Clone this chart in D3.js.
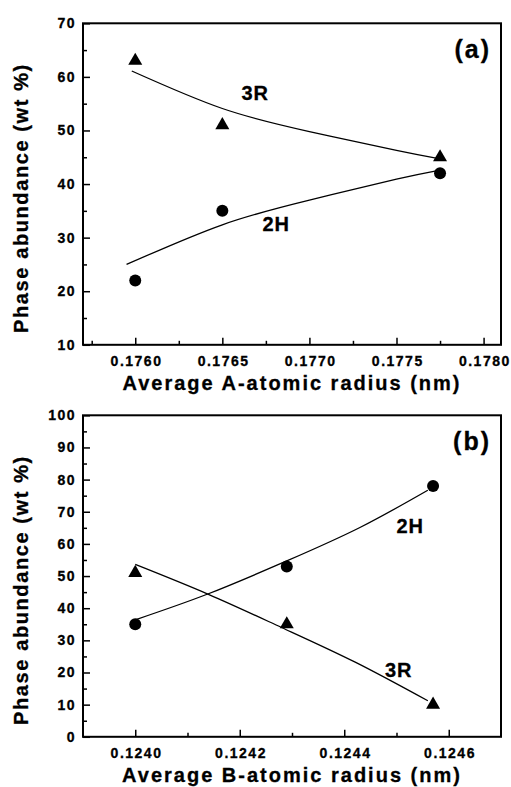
<!DOCTYPE html>
<html>
<head>
<meta charset="utf-8">
<script src="https://cdn.jsdelivr.net/npm/d3@7"></script>
<style>
	body { margin: 0; background: #fff; }
	svg text { font-family: 'Liberation Sans', Arial, sans-serif; font-weight: bold; fill: #000; stroke: #000; stroke-width: 0.3px; }
	.tick line { stroke: #000; stroke-width: 1.5; }
	.domain { display: none; }
</style>
</head>
<body>
<div id="chart"></div>
<script>
// panel (a): average A-atomic radius
const radiusA = [0.1760, 0.1765, 0.17775];
const abundA3R = [63, 51, 45];
const abundA2H = [22, 35, 42];
const fitA3R = [[0.17598, 61.1], [0.1765, 54.1], [0.1770, 49.8], [0.1775, 46.3], [0.17775, 44.7]];
const fitA2H = [[0.17595, 25.0], [0.1765, 32.4], [0.1770, 37.0], [0.1775, 40.9], [0.17775, 42.6]];
const xTicksA = [0.1760, 0.1765, 0.1770, 0.1775, 0.1780];
const xMinorA = [0.17575, 0.17625, 0.17675, 0.17725, 0.17775];
const yTicksA = [10, 20, 30, 40, 50, 60, 70];
const yMinorA = [15, 25, 35, 45, 55, 65];

// panel (b): average B-atomic radius
const radiusB = [0.1240, 0.12429, 0.12457];
const abundB3R = [51, 35, 10];
const abundB2H = [35, 53, 78];
const fitB3R = [[0.1240, 53.6], [0.12414, 44.3], [0.12428, 34.0], [0.12442, 23.3], [0.12456, 11.2]];
const fitB2H = [[0.1240, 36.4], [0.12414, 44.5], [0.12429, 54.7], [0.12443, 65.1], [0.12456, 76.7]];
const xTicksB = [0.1240, 0.1242, 0.1244, 0.1246];
const xMinorB = [0.1241, 0.1243, 0.1245];
const yTicksB = [0, 10, 20, 30, 40, 50, 60, 70, 80, 90, 100];
const yMinorB = [5, 15, 25, 35, 45, 55, 65, 75, 85, 95];

const WIDTH = 511;
const HEIGHT = 787;
const marginLeft = 83;
const marginRight = 10;
const plotH = 321.5;

const panels = [
	{
		top: 23.3, tag: '(a)', xTitle: 'Average A-atomic radius (nm)',
		xDomain: [0.1757, 0.1781], yDomain: [10, 70],
		x: radiusA, r3: abundA3R, h2: abundA2H, fit3: fitA3R, fit2: fitA2H,
		xTicks: xTicksA, xMinor: xMinorA, yTicks: yTicksA, yMinor: yMinorA,
		label3: [0.17661, 55.7], label2: [0.17673, 31.3]
	},
	{
		top: 415.3, tag: '(b)', xTitle: 'Average B-atomic radius (nm)',
		xDomain: [0.1239, 0.1247], yDomain: [0, 100],
		x: radiusB, r3: abundB3R, h2: abundB2H, fit3: fitB3R, fit2: fitB2H,
		xTicks: xTicksB, xMinor: xMinorB, yTicks: yTicksB, yMinor: yMinorB,
		label3: [0.124478, 18.6], label2: [0.1245, 63.3]
	}
];

const $svg = d3.select('#chart').append('svg')
	.attr('width', WIDTH)
	.attr('height', HEIGHT);

$svg.append('rect').attr('width', WIDTH).attr('height', HEIGHT).attr('fill', '#fff');

const width = WIDTH - marginLeft - marginRight;

function drawPanel(p) {
	const scaleX = d3.scaleLinear().domain(p.xDomain).range([0, width]);
	const scaleY = d3.scaleLinear().domain(p.yDomain).range([plotH, 0]);

	const $g = $svg.append('g').attr('transform', `translate(${marginLeft}, ${p.top})`);

	// axes, ticks pointing inward
	const $xMajor = $g.append('g')
		.attr('transform', `translate(0, ${plotH})`)
		.call(d3.axisBottom(scaleX).tickValues(p.xTicks).tickSize(-7).tickPadding(11).tickFormat(d3.format('.4f')));
	$g.append('g')
		.attr('transform', `translate(0, ${plotH})`)
		.call(d3.axisBottom(scaleX).tickValues(p.xMinor).tickSize(-4).tickFormat(''));
	$g.append('g')
		.call(d3.axisLeft(scaleY).tickValues(p.yTicks).tickSize(-7).tickPadding(7));
	$g.append('g')
		.call(d3.axisLeft(scaleY).tickValues(p.yMinor).tickSize(-4).tickFormat(''));

	$g.selectAll('.tick text')
		.attr('font-size', 14)
		.style('letter-spacing', '1.5px');
	$xMajor.selectAll('.tick text').attr('dx', '0.75px');

	// frame
	$g.append('rect')
		.attr('width', width)
		.attr('height', plotH)
		.attr('fill', 'none')
		.attr('stroke', '#000')
		.attr('stroke-width', 2);

	// fitted curves
	const line = d3.line()
		.x(d => scaleX(d[0]))
		.y(d => scaleY(d[1]))
		.curve(d3.curveNatural);

	[p.fit3, p.fit2].forEach(fit => {
		$g.append('path')
			.datum(fit)
			.attr('d', line)
			.attr('fill', 'none')
			.attr('stroke', '#000')
			.attr('stroke-width', 1.3);
	});

	// markers
	const triangle = d3.symbol(d3.symbolTriangle, 85);
	$g.selectAll('path.tri')
		.data(p.x.map((x, i) => [x, p.r3[i]]))
		.join('path')
		.attr('class', 'tri')
		.attr('d', triangle)
		.attr('transform', d => `translate(${scaleX(d[0])}, ${scaleY(d[1])})`)
		.attr('fill', '#000');

	$g.selectAll('circle.dot')
		.data(p.x.map((x, i) => [x, p.h2[i]]))
		.join('circle')
		.attr('class', 'dot')
		.attr('cx', d => scaleX(d[0]))
		.attr('cy', d => scaleY(d[1]))
		.attr('r', 6)
		.attr('fill', '#000');

	// series labels
	$g.append('text')
		.attr('x', scaleX(p.label3[0]))
		.attr('y', scaleY(p.label3[1]))
		.attr('font-size', 20)
		.style('letter-spacing', '1px')
		.text('3R');
	$g.append('text')
		.attr('x', scaleX(p.label2[0]))
		.attr('y', scaleY(p.label2[1]))
		.attr('font-size', 20)
		.style('letter-spacing', '1px')
		.text('2H');

	// panel tag
	$g.append('text')
		.attr('x', width - 10)
		.attr('y', 35)
		.attr('text-anchor', 'end')
		.attr('font-size', 25)
		.style('letter-spacing', '2px')
		.text(p.tag);

	// axis titles
	$g.append('text')
		.attr('x', width / 2)
		.attr('y', plotH + 45)
		.attr('text-anchor', 'middle')
		.attr('font-size', 20)
		.style('letter-spacing', '2px')
		.text(p.xTitle);

	$g.append('text')
		.attr('transform', `translate(${27.5 - marginLeft}, ${plotH / 2 + 14}) rotate(-90)`)
		.attr('text-anchor', 'middle')
		.attr('font-size', 20)
		.style('letter-spacing', '1.6px')
		.text('Phase abundance (wt %)');
}

panels.forEach(drawPanel);
</script>
</body>
</html>
